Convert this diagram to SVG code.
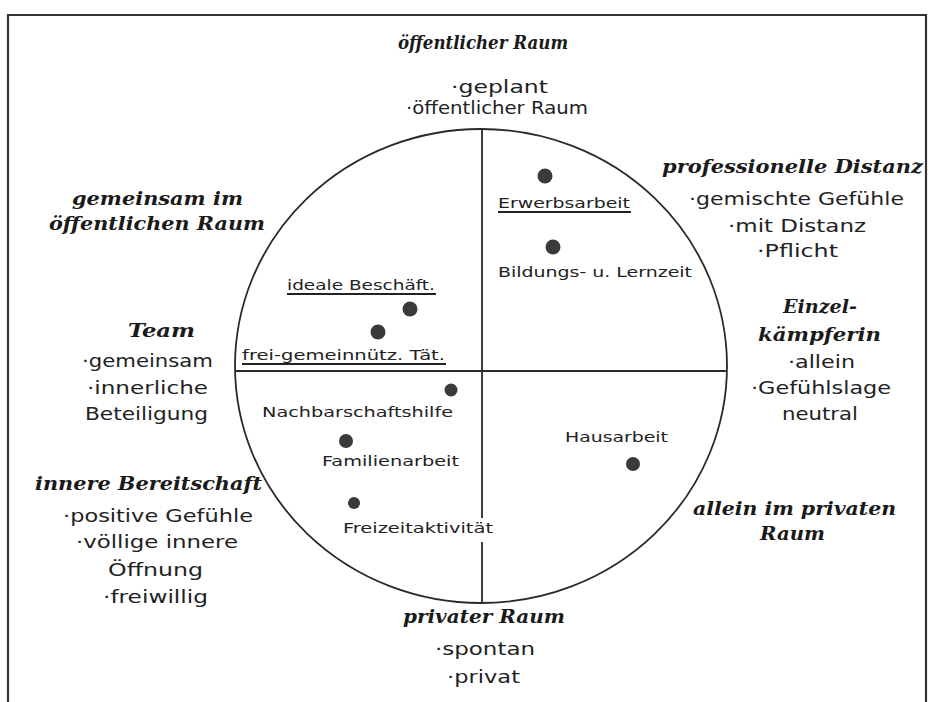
<svg xmlns="http://www.w3.org/2000/svg" width="934" height="702" viewBox="0 0 934 702">
<style>
.h{font-family:"DejaVu Serif","Liberation Serif",serif;font-style:italic;font-weight:bold;font-stretch:condensed;font-size:19px;fill:#1a1a1a}
.b{font-family:"DejaVu Sans","Liberation Sans",sans-serif;font-size:17px;fill:#222}
.n{font-family:"DejaVu Sans","Liberation Sans",sans-serif;font-size:14px;fill:#222}
.ax{stroke:#2a2a2a;stroke-width:1.8;fill:none}
.ul{stroke:#222;stroke-width:2}
.dot{fill:#3a3a3a}
</style>
<rect width="934" height="702" fill="#fff"/>
<path d="M8,702 V15 H926 V702" fill="none" stroke="#333" stroke-width="2.2"/>
<g id="connectors">
<ellipse class="ax" cx="481" cy="366" rx="246" ry="237"/>
<line class="ax" x1="235" y1="371" x2="727" y2="371"/>
<line class="ax" x1="482" y1="129" x2="482" y2="518"/>
<line class="ax" x1="482" y1="542" x2="482" y2="602"/>
</g>
<g id="top">
<text class="h" x="398" y="49" textLength="170" lengthAdjust="spacingAndGlyphs">öffentlicher Raum</text>
<text class="b" x="451" y="93" textLength="97" lengthAdjust="spacingAndGlyphs">·geplant</text>
<text class="b" x="406" y="114" textLength="182" lengthAdjust="spacingAndGlyphs">·öffentlicher Raum</text>
</g>
<g id="topright">
<text class="h" x="662" y="173" textLength="261" lengthAdjust="spacingAndGlyphs">professionelle Distanz</text>
<text class="b" x="689" y="205" textLength="215" lengthAdjust="spacingAndGlyphs">·gemischte Gefühle</text>
<text class="b" x="728" y="232" textLength="138" lengthAdjust="spacingAndGlyphs">·mit Distanz</text>
<text class="b" x="757" y="257" textLength="81" lengthAdjust="spacingAndGlyphs">·Pflicht</text>
</g>
<g id="right">
<text class="h" x="783" y="313" textLength="74" lengthAdjust="spacingAndGlyphs">Einzel-</text>
<text class="h" x="758" y="341" textLength="123" lengthAdjust="spacingAndGlyphs">kämpferin</text>
<text class="b" x="788" y="368" textLength="67" lengthAdjust="spacingAndGlyphs">·allein</text>
<text class="b" x="751" y="394" textLength="140" lengthAdjust="spacingAndGlyphs">·Gefühlslage</text>
<text class="b" x="782" y="420" textLength="76" lengthAdjust="spacingAndGlyphs">neutral</text>
</g>
<g id="bottomright">
<text class="h" x="693" y="515" textLength="203" lengthAdjust="spacingAndGlyphs">allein im privaten</text>
<text class="h" x="760" y="540" textLength="65" lengthAdjust="spacingAndGlyphs">Raum</text>
</g>
<g id="bottom">
<text class="h" x="403" y="623" textLength="162" lengthAdjust="spacingAndGlyphs">privater Raum</text>
<text class="b" x="435" y="655" textLength="100" lengthAdjust="spacingAndGlyphs">·spontan</text>
<text class="b" x="447" y="683" textLength="73" lengthAdjust="spacingAndGlyphs">·privat</text>
</g>
<g id="bottomleft">
<text class="h" x="35" y="490" textLength="227" lengthAdjust="spacingAndGlyphs">innere Bereitschaft</text>
<text class="b" x="63" y="522" textLength="190" lengthAdjust="spacingAndGlyphs">·positive Gefühle</text>
<text class="b" x="76" y="548" textLength="162" lengthAdjust="spacingAndGlyphs">·völlige innere</text>
<text class="b" x="108" y="576" textLength="95" lengthAdjust="spacingAndGlyphs">Öffnung</text>
<text class="b" x="103" y="603" textLength="105" lengthAdjust="spacingAndGlyphs">·freiwillig</text>
</g>
<g id="left">
<text class="h" x="128" y="337" textLength="67" lengthAdjust="spacingAndGlyphs">Team</text>
<text class="b" x="82" y="367" textLength="131" lengthAdjust="spacingAndGlyphs">·gemeinsam</text>
<text class="b" x="87" y="394" textLength="121" lengthAdjust="spacingAndGlyphs">·innerliche</text>
<text class="b" x="85" y="420" textLength="123" lengthAdjust="spacingAndGlyphs">Beteiligung</text>
</g>
<g id="topleft">
<text class="h" x="72" y="205" textLength="171" lengthAdjust="spacingAndGlyphs">gemeinsam im</text>
<text class="h" x="49" y="230" textLength="216" lengthAdjust="spacingAndGlyphs">öffentlichen Raum</text>
</g>
<g id="erwerbsarbeit">
<circle class="dot" cx="545" cy="176" r="7.5"/>
<text class="n" x="498" y="208" textLength="132" lengthAdjust="spacingAndGlyphs">Erwerbsarbeit</text>
<line class="ul" x1="498" y1="212" x2="631" y2="212"/>
</g>
<g id="bildung">
<circle class="dot" cx="553" cy="247" r="7.5"/>
<text class="n" x="498" y="277" textLength="194" lengthAdjust="spacingAndGlyphs">Bildungs- u. Lernzeit</text>
</g>
<g id="ideale">
<text class="n" x="287" y="290" textLength="148" lengthAdjust="spacingAndGlyphs">ideale Beschäft.</text>
<line class="ul" x1="287" y1="294" x2="436" y2="294"/>
<circle class="dot" cx="410" cy="309" r="7.5"/>
</g>
<g id="frei">
<circle class="dot" cx="378" cy="332" r="7.5"/>
<text class="n" x="242" y="360" textLength="203" lengthAdjust="spacingAndGlyphs">frei-gemeinnütz. Tät.</text>
<line class="ul" x1="242" y1="364" x2="446" y2="364"/>
</g>
<g id="nachbar">
<circle class="dot" cx="451" cy="390" r="6.5"/>
<text class="n" x="262" y="417" textLength="191" lengthAdjust="spacingAndGlyphs">Nachbarschaftshilfe</text>
</g>
<g id="familie">
<circle class="dot" cx="346" cy="441" r="7"/>
<text class="n" x="322" y="466" textLength="137" lengthAdjust="spacingAndGlyphs">Familienarbeit</text>
</g>
<g id="freizeit">
<circle class="dot" cx="354" cy="503" r="6"/>
<text class="n" x="343" y="533" textLength="150" lengthAdjust="spacingAndGlyphs">Freizeitaktivität</text>
</g>
<g id="haus">
<text class="n" x="565" y="442" textLength="103" lengthAdjust="spacingAndGlyphs">Hausarbeit</text>
<circle class="dot" cx="633" cy="464" r="7"/>
</g>
</svg>
